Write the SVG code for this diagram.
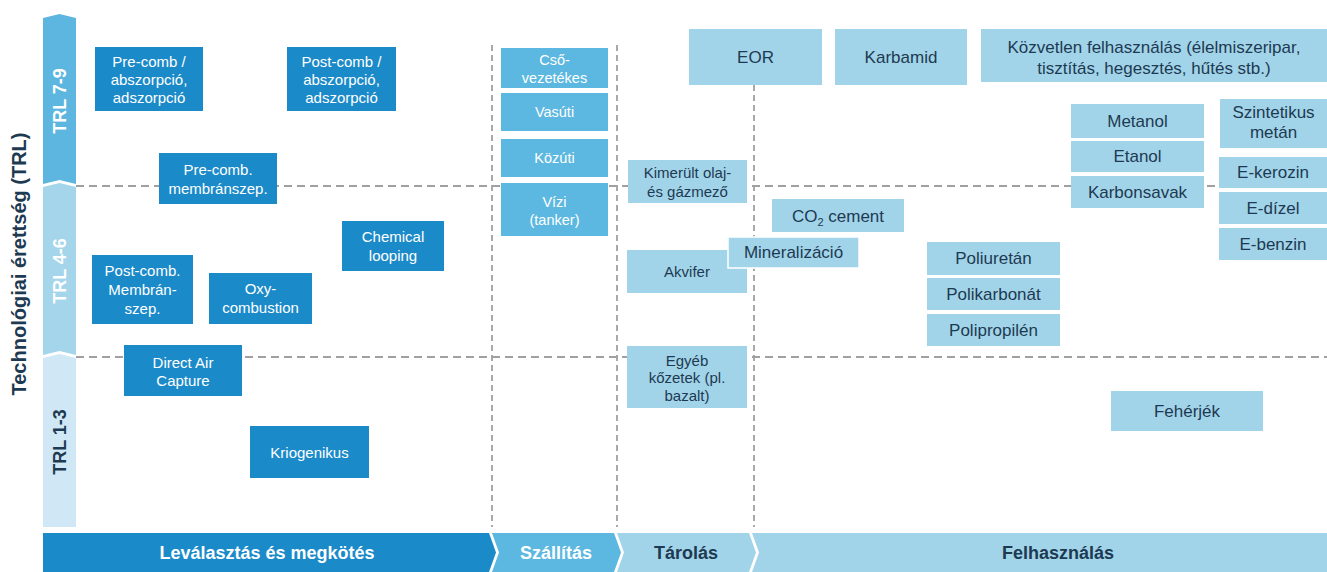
<svg xmlns="http://www.w3.org/2000/svg" width="1327" height="572" viewBox="0 0 1327 572">
<style>
text{font-family:"Liberation Sans",Arial,sans-serif;text-anchor:middle}
.cap{fill:#1b8ac9}
.tr{fill:#5cb8e0}
.lt{fill:#a2d4e9}
.wt{fill:#ffffff;font-size:15px}
.wt2{fill:#ffffff;font-size:14.5px}
.dk{fill:#1d3a52;font-size:15px}
.dk2{fill:#1d3a52;font-size:17px}
.hd{stroke:#a0a0a0;stroke-width:1.8;stroke-dasharray:8 5;fill:none}
.vd{stroke:#a0a0a0;stroke-width:1.8;stroke-dasharray:6 4;fill:none}
.bar{font-weight:bold;font-size:18px}
.trl{font-weight:bold;font-size:18px}
</style>
<rect width="1327" height="572" fill="#ffffff"/>

<g id="grid">
<line class="hd" x1="76" y1="186" x2="1327" y2="186"/>
<line class="hd" x1="76" y1="357" x2="1327" y2="357"/>
<line class="vd" x1="492" y1="45" x2="492" y2="527"/>
<line class="vd" x1="617" y1="45" x2="617" y2="527"/>
<line class="vd" x1="754" y1="85" x2="754" y2="527"/>
</g>

<g id="axis">
<text transform="translate(26,264) rotate(-90)" style="font-weight:bold;font-size:20px;fill:#1d3a52">Technológiai érettség (TRL)</text>
<g id="trl79">
<polygon points="43,18 59.5,14 76,18 76,184 59.5,180 43,184" fill="#5db6df"/>
<text class="trl" transform="translate(66,101) rotate(-90)" fill="#ffffff">TRL 7-9</text>
</g>
<g id="trl46">
<polygon points="43,187 59.5,183 76,187 76,355 59.5,351 43,355" fill="#a4d5ea"/>
<text class="trl" transform="translate(66,271) rotate(-90)" fill="#ffffff">TRL 4-6</text>
</g>
<g id="trl13">
<polygon points="43,358 59.5,354 76,358 76,527 43,527" fill="#d0e8f5"/>
<text class="trl" transform="translate(66,442) rotate(-90)" fill="#1d3a52">TRL 1-3</text>
</g>
</g>

<g id="n-precomb-abs"><rect class="cap" x="95" y="47" width="108" height="64"/>
<text class="wt" x="149" y="67">Pre-comb /</text><text class="wt" x="149" y="85">abszorpció,</text><text class="wt" x="149" y="103">adszorpció</text></g>
<g id="n-postcomb-abs"><rect class="cap" x="287" y="47" width="109" height="64"/>
<text class="wt" x="341.5" y="67">Post-comb  /</text><text class="wt" x="341.5" y="85">abszorpció,</text><text class="wt" x="341.5" y="103">adszorpció</text></g>
<g id="n-precomb-memb"><rect class="cap" x="159" y="153" width="118" height="51"/>
<text class="wt" x="218" y="175">Pre-comb.</text><text class="wt" x="218" y="194">membránszep.</text></g>
<g id="n-chemloop"><rect class="cap" x="342" y="221" width="102" height="50"/>
<text class="wt" x="393" y="242">Chemical</text><text class="wt" x="393" y="261">looping</text></g>
<g id="n-postcomb-memb"><rect class="cap" x="92" y="255" width="101" height="69"/>
<text class="wt" x="142.5" y="276">Post-comb.</text><text class="wt" x="142.5" y="295">Membrán-</text><text class="wt" x="142.5" y="314">szep.</text></g>
<g id="n-oxy"><rect class="cap" x="209" y="273" width="103" height="51"/>
<text class="wt" x="260.5" y="294">Oxy-</text><text class="wt" x="260.5" y="313">combustion</text></g>
<g id="n-dac"><rect class="cap" x="124" y="345" width="118" height="51"/>
<text class="wt" x="183" y="368">Direct Air</text><text class="wt" x="183" y="386">Capture</text></g>
<g id="n-krio"><rect class="cap" x="250" y="426" width="119" height="52"/>
<text class="wt" x="309.5" y="458">Kriogenikus</text></g>

<g id="n-cso"><rect class="tr" x="501" y="48" width="107" height="40"/>
<text class="wt2" x="554.5" y="65">Cső-</text><text class="wt2" x="554.5" y="83">vezetékes</text></g>
<g id="n-vasuti"><rect class="tr" x="501" y="93" width="107" height="38"/>
<text class="wt2" x="554.5" y="117">Vasúti</text></g>
<g id="n-kozuti"><rect class="tr" x="501" y="139" width="107" height="38"/>
<text class="wt2" x="554.5" y="163">Közúti</text></g>
<g id="n-vizi"><rect class="tr" x="501" y="183" width="107" height="53"/>
<text class="wt2" x="554.5" y="207">Vízi</text><text class="wt2" x="554.5" y="225">(tanker)</text></g>

<g id="n-kimerult"><rect class="lt" x="628" y="160" width="119" height="43"/>
<text class="dk" x="687.5" y="178">Kimerült olaj-</text><text class="dk" x="687.5" y="197">és gázmező</text></g>
<g id="n-akvifer"><rect class="lt" x="627" y="250" width="120" height="43"/>
<text class="dk" x="687" y="277">Akvifer</text></g>
<g id="n-egyeb"><rect class="lt" x="627" y="346" width="120" height="62"/>
<text class="dk" x="687" y="366">Egyéb</text><text class="dk" x="687" y="383">kőzetek (pl.</text><text class="dk" x="687" y="401">bazalt)</text></g>
<g id="n-mineral"><rect class="lt" x="728" y="237" width="131" height="31" stroke="#ffffff" stroke-width="1.5"/>
<text class="dk2" x="793.5" y="258">Mineralizáció</text></g>
<g id="n-co2cement"><rect class="lt" x="772" y="199" width="132" height="33"/>
<text class="dk2" x="838" y="222">CO<tspan font-size="11" dy="4">2</tspan><tspan dy="-4"> cement</tspan></text></g>

<g id="n-eor"><rect class="lt" x="689" y="29" width="133" height="56"/>
<text class="dk2" x="755.5" y="63">EOR</text></g>
<g id="n-karbamid"><rect class="lt" x="835" y="29" width="132" height="56"/>
<text class="dk2" x="901" y="63">Karbamid</text></g>
<g id="n-kozvetlen"><rect class="lt" x="981" y="29" width="346" height="53"/>
<text class="dk2" x="1154" y="53">Közvetlen felhasználás (élelmiszeripar,</text><text class="dk2" x="1154" y="74">tisztítás, hegesztés, hűtés stb.)</text></g>
<g id="n-metanol"><rect class="lt" x="1071" y="104" width="133" height="34"/>
<text class="dk2" x="1137.5" y="127">Metanol</text></g>
<g id="n-etanol"><rect class="lt" x="1071" y="141" width="133" height="31"/>
<text class="dk2" x="1137.5" y="162">Etanol</text></g>
<g id="n-karbonsav"><rect class="lt" x="1071" y="176" width="133" height="32"/>
<text class="dk2" x="1137.5" y="198">Karbonsavak</text></g>
<g id="n-szintmetan"><rect class="lt" x="1220" y="99" width="107" height="49"/>
<text class="dk2" x="1273.5" y="118">Szintetikus</text><text class="dk2" x="1273.5" y="138">metán</text></g>
<g id="n-ekerozin"><rect class="lt" x="1219" y="157" width="108" height="31"/>
<text class="dk2" x="1273" y="178">E-kerozin</text></g>
<g id="n-edizel"><rect class="lt" x="1219" y="192" width="108" height="32"/>
<text class="dk2" x="1273" y="214">E-dízel</text></g>
<g id="n-ebenzin"><rect class="lt" x="1219" y="228" width="108" height="32"/>
<text class="dk2" x="1273" y="250">E-benzin</text></g>
<g id="n-poliuretan"><rect class="lt" x="927" y="242" width="133" height="33"/>
<text class="dk2" x="993.5" y="264">Poliuretán</text></g>
<g id="n-polikarb"><rect class="lt" x="927" y="278" width="133" height="32"/>
<text class="dk2" x="993.5" y="300">Polikarbonát</text></g>
<g id="n-poliprop"><rect class="lt" x="927" y="314" width="133" height="32"/>
<text class="dk2" x="993.5" y="336">Polipropilén</text></g>
<g id="n-feherjek"><rect class="lt" x="1111" y="391" width="152" height="40"/>
<text class="dk2" x="1187" y="417">Fehérjék</text></g>

<g id="stages">
<g id="s-levalasztas"><polygon points="43,533 489,533 496,552.5 489,572 43,572" fill="#1b8ac9"/>
<text class="bar" x="267" y="559" fill="#ffffff">Leválasztás és megkötés</text></g>
<g id="s-szallitas"><polygon points="492,533 614,533 621,552.5 614,572 492,572 499,552.5" fill="#5cb8e0"/>
<text class="bar" x="556" y="559" fill="#ffffff">Szállítás</text></g>
<g id="s-tarolas"><polygon points="617,533 749,533 756,552.5 749,572 617,572 624,552.5" fill="#a2d4e9"/>
<text class="bar" x="686" y="559" fill="#1d3a52">Tárolás</text></g>
<g id="s-felhasznalas"><polygon points="752,533 1327,533 1327,572 752,572 759,552.5" fill="#a2d4e9"/>
<text class="bar" x="1058" y="559" fill="#1d3a52">Felhasználás</text></g>
</g>
</svg>
